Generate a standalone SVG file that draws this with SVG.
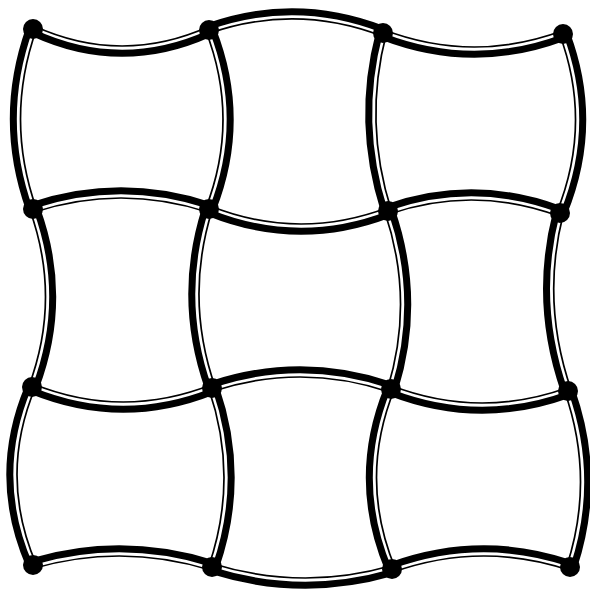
<svg xmlns="http://www.w3.org/2000/svg" width="590" height="592" viewBox="0 0 590 592">
<style>
.thick{fill:none;stroke:#000;stroke-width:7;stroke-linecap:round}
.thin{fill:none;stroke:#000;stroke-width:1.7;stroke-linecap:round}
.node{fill:#000}
</style>
<rect width="590" height="592" fill="#fff"/>
<g id="connectors">
<path class="thick" transform="translate(0,3.7)" d="M33,29 Q121,69.5 209,30"/><path class="thin" transform="translate(0,-3.5)" d="M33,29 Q121,69.5 209,30"/>
<path class="thick" transform="translate(0,-3.7)" d="M209,30 Q296,-0.5 383,33"/><path class="thin" transform="translate(0,3.5)" d="M209,30 Q296,-0.5 383,33"/>
<path class="thick" transform="translate(0,3.7)" d="M383,33 Q473,67.5 563,34"/><path class="thin" transform="translate(0,-3.5)" d="M383,33 Q473,67.5 563,34"/>
<path class="thick" transform="translate(0,-3.7)" d="M33,209 Q121,180 209,209"/><path class="thin" transform="translate(0,3.5)" d="M33,209 Q121,180 209,209"/>
<path class="thick" transform="translate(0,3.7)" d="M209,209 Q298.5,245 388,211"/><path class="thin" transform="translate(0,-3.5)" d="M209,209 Q298.5,245 388,211"/>
<path class="thick" transform="translate(0,-3.7)" d="M388,211 Q474,181 560,213"/><path class="thin" transform="translate(0,3.5)" d="M388,211 Q474,181 560,213"/>
<path class="thick" transform="translate(0,3.7)" d="M32,387 Q122,423.5 212,388"/><path class="thin" transform="translate(0,-3.5)" d="M32,387 Q122,423.5 212,388"/>
<path class="thick" transform="translate(0,-3.7)" d="M212,388 Q301.5,358.5 391,389"/><path class="thin" transform="translate(0,3.5)" d="M212,388 Q301.5,358.5 391,389"/>
<path class="thick" transform="translate(0,3.7)" d="M391,389 Q479.5,423 568,391"/><path class="thin" transform="translate(0,-3.5)" d="M391,389 Q479.5,423 568,391"/>
<path class="thick" transform="translate(0,-3.7)" d="M33,565 Q122.5,539 212,567"/><path class="thin" transform="translate(0,3.5)" d="M33,565 Q122.5,539 212,567"/>
<path class="thick" transform="translate(0,3.7)" d="M212,567 Q302,595 392,569"/><path class="thin" transform="translate(0,-3.5)" d="M212,567 Q302,595 392,569"/>
<path class="thick" transform="translate(0,-3.7)" d="M392,569 Q481,537 570,567"/><path class="thin" transform="translate(0,3.5)" d="M392,569 Q481,537 570,567"/>
<path class="thick" transform="translate(-3.7,0)" d="M33,29 Q1,119 33,209"/><path class="thin" transform="translate(3.5,0)" d="M33,29 Q1,119 33,209"/>
<path class="thick" transform="translate(3.7,0)" d="M33,209 Q65.5,298 32,387"/><path class="thin" transform="translate(-3.5,0)" d="M33,209 Q65.5,298 32,387"/>
<path class="thick" transform="translate(-3.7,0)" d="M32,387 Q-5.5,476 33,565"/><path class="thin" transform="translate(3.5,0)" d="M32,387 Q-5.5,476 33,565"/>
<path class="thick" transform="translate(3.7,0)" d="M209,30 Q244,119.5 209,209"/><path class="thin" transform="translate(-3.5,0)" d="M209,30 Q244,119.5 209,209"/>
<path class="thick" transform="translate(-3.7,0)" d="M209,209 Q180.5,298.5 212,388"/><path class="thin" transform="translate(3.5,0)" d="M209,209 Q180.5,298.5 212,388"/>
<path class="thick" transform="translate(3.7,0)" d="M212,388 Q243,477.5 212,567"/><path class="thin" transform="translate(-3.5,0)" d="M212,388 Q243,477.5 212,567"/>
<path class="thick" transform="translate(-3.7,0)" d="M383,33 Q359.5,122 388,211"/><path class="thin" transform="translate(3.5,0)" d="M383,33 Q359.5,122 388,211"/>
<path class="thick" transform="translate(3.7,0)" d="M388,211 Q418.5,300 391,389"/><path class="thin" transform="translate(-3.5,0)" d="M388,211 Q418.5,300 391,389"/>
<path class="thick" transform="translate(-3.7,0)" d="M391,389 Q354.5,479 392,569"/><path class="thin" transform="translate(3.5,0)" d="M391,389 Q354.5,479 392,569"/>
<path class="thick" transform="translate(3.7,0)" d="M563,34 Q596.5,123.5 560,213"/><path class="thin" transform="translate(-3.5,0)" d="M563,34 Q596.5,123.5 560,213"/>
<path class="thick" transform="translate(-3.7,0)" d="M560,213 Q537,302 568,391"/><path class="thin" transform="translate(3.5,0)" d="M560,213 Q537,302 568,391"/>
<path class="thick" transform="translate(3.7,0)" d="M568,391 Q599,479 570,567"/><path class="thin" transform="translate(-3.5,0)" d="M568,391 Q599,479 570,567"/>
</g>
<g id="n00"><circle class="node" cx="33" cy="29" r="10"/></g>
<g id="n01"><circle class="node" cx="209" cy="30" r="10"/></g>
<g id="n02"><circle class="node" cx="383" cy="33" r="10"/></g>
<g id="n03"><circle class="node" cx="563" cy="34" r="10"/></g>
<g id="n10"><circle class="node" cx="33" cy="209" r="10"/></g>
<g id="n11"><circle class="node" cx="209" cy="209" r="10"/></g>
<g id="n12"><circle class="node" cx="388" cy="211" r="10"/></g>
<g id="n13"><circle class="node" cx="560" cy="213" r="10"/></g>
<g id="n20"><circle class="node" cx="32" cy="387" r="10"/></g>
<g id="n21"><circle class="node" cx="212" cy="388" r="10"/></g>
<g id="n22"><circle class="node" cx="391" cy="389" r="10"/></g>
<g id="n23"><circle class="node" cx="568" cy="391" r="10"/></g>
<g id="n30"><circle class="node" cx="33" cy="565" r="10"/></g>
<g id="n31"><circle class="node" cx="212" cy="567" r="10"/></g>
<g id="n32"><circle class="node" cx="392" cy="569" r="10"/></g>
<g id="n33"><circle class="node" cx="570" cy="567" r="10"/></g>
</svg>
